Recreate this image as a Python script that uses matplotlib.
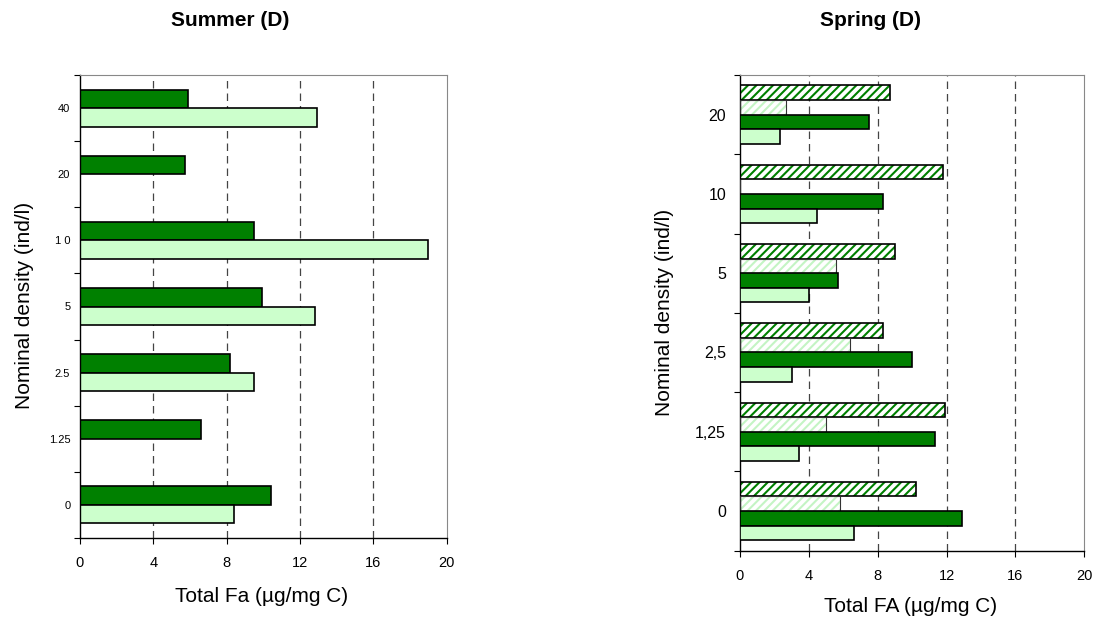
import numpy as np
import matplotlib.pyplot as plt

plt.rcParams['font.family'] = ['Liberation Sans', 'DejaVu Sans']
plt.rcParams['hatch.linewidth'] = 1.5

# Summer (D)
summer_cats = ['0', '1.25', '2.5', '5', '1 0', '20', '40']
summer_dark = [10.4, 6.6, 8.2, 9.9, 9.5, 5.7, 5.9]
summer_light = [8.4, 0, 9.5, 12.8, 19.0, 0, 12.9]

# Spring (D)
spring_cats = ['0', '1,25', '2,5', '5', '10', '20']
spring_hatch = [10.2, 11.9, 8.3, 9.0, 11.8, 8.7]
spring_lhatch = [5.8, 5.0, 6.4, 5.6, 0, 2.7]
spring_dark = [12.9, 11.3, 10.0, 5.7, 8.3, 7.5]
spring_light = [6.6, 3.4, 3.0, 4.0, 4.5, 2.3]

DARK = '#008000'
LIGHT = '#CCFFCC'
W, H = 1094, 622


def style_axes(ax, n):
    ax.set_xlim(0, 20)
    ax.set_ylim(-0.5, n - 0.5)
    ax.set_xticks(np.arange(0, 21, 4))
    ax.set_yticks(np.arange(-0.5, n, 1.0))
    ax.set_yticklabels([])
    ax.set_yticks(np.arange(n), minor=True)
    ax.tick_params(axis='y', which='major', length=4, width=0.8)
    ax.tick_params(axis='x', length=4, width=0.8, pad=9, labelsize=10.5)
    for v in [4, 8, 12, 16]:
        ax.axvline(v, color='#444444', lw=0.9, ls=(0, (6, 4)), zorder=0)
    ax.spines['top'].set_color('#888888')
    ax.spines['right'].set_color('#888888')
    ax.spines['left'].set_linewidth(1.0)
    ax.spines['bottom'].set_linewidth(1.0)


fig = plt.figure(figsize=(W / 100, H / 100), dpi=100)

# left panel
ax1 = fig.add_axes([80 / W, 1 - 538 / H, 366.7 / W, 463 / H])
y = np.arange(len(summer_cats))
h = 0.28
ax1.barh(y + h / 2, summer_dark, height=h, color=DARK, edgecolor='black', lw=1.2, zorder=2)
ax1.barh(y - h / 2, summer_light, height=h, color=LIGHT, edgecolor='black', lw=1.2, zorder=2)
style_axes(ax1, len(summer_cats))
ax1.set_yticklabels(summer_cats, minor=True, fontsize=8)
ax1.tick_params(axis='y', which='minor', length=0, pad=7)

# right panel
ax2 = fig.add_axes([740 / W, 1 - 550.7 / H, 344.3 / W, 475.7 / H])
y2 = np.arange(len(spring_cats))
h2 = 0.184
ax2.barh(y2 + 1.5 * h2, spring_hatch, height=h2, color='white', edgecolor=DARK,
         hatch='////', lw=0, zorder=2)
ax2.barh(y2 + 1.5 * h2, spring_hatch, height=h2, fill=False, edgecolor='black', lw=1.2, zorder=3)
ax2.barh(y2 + 0.5 * h2, spring_lhatch, height=h2, color='white', edgecolor='#C4F4C4',
         hatch='////', lw=0, zorder=2)
ax2.barh(y2 + 0.5 * h2, spring_lhatch, height=h2, fill=False, edgecolor='#333333', lw=0.8, zorder=3)
ax2.barh(y2 - 0.5 * h2, spring_dark, height=h2, color=DARK, edgecolor='black', lw=1.2, zorder=3)
ax2.barh(y2 - 1.5 * h2, spring_light, height=h2, color=LIGHT, edgecolor='black', lw=1.2, zorder=3)
style_axes(ax2, len(spring_cats))
ax2.set_yticklabels(spring_cats, minor=True, fontsize=11.5)
ax2.tick_params(axis='y', which='minor', length=0, pad=10)

# titles and axis labels
fig.text(230 / W, 1 - 21 / H, 'Summer (D)', fontsize=15, fontweight='bold', ha='center', va='center')
fig.text(870 / W, 1 - 21 / H, 'Spring (D)', fontsize=15, fontweight='bold', ha='center', va='center')
fig.text(262 / W, 1 - 596 / H, 'Total Fa (µg/mg C)', fontsize=15, ha='center', va='center')
fig.text(911 / W, 1 - 607 / H, 'Total FA (µg/mg C)', fontsize=15, ha='center', va='center')
fig.text(25 / W, 1 - 305 / H, 'Nominal density (ind/l)', fontsize=15, rotation=90,
         ha='center', va='center')
fig.text(664 / W, 1 - 312 / H, 'Nominal density (ind/l)', fontsize=15, rotation=90,
         ha='center', va='center')

fig.savefig('out.png', dpi=100)
